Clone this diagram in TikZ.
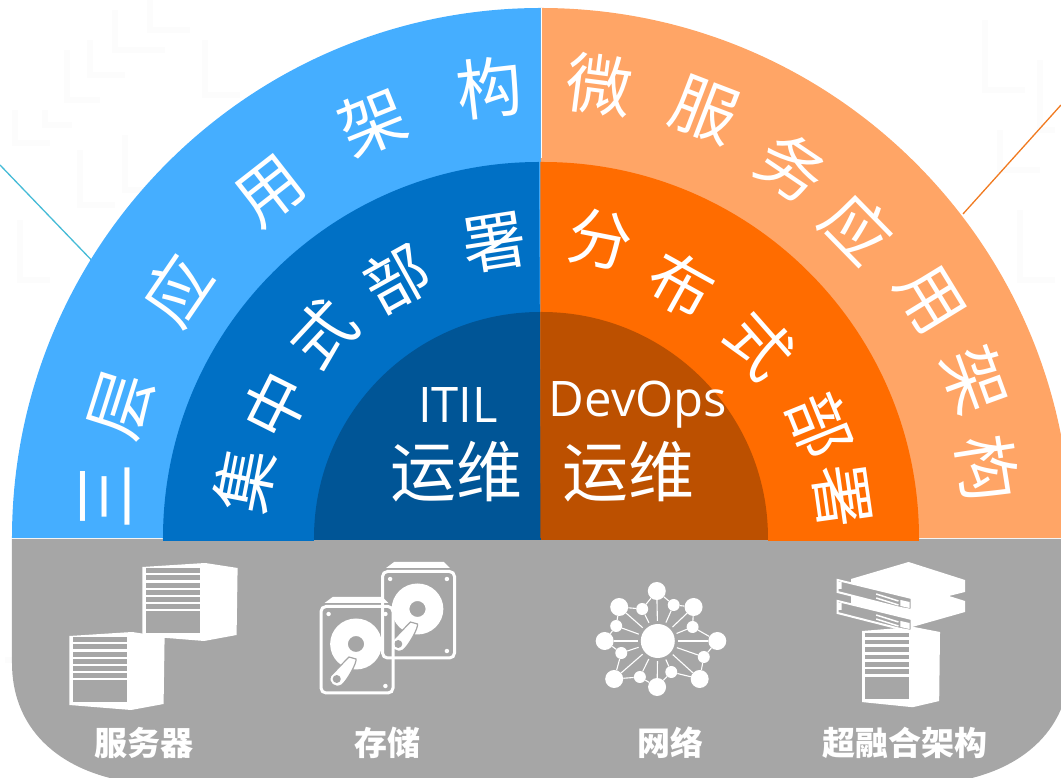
\documentclass[tikz,border=0pt]{standalone}
\usepackage{fontspec}
\setmainfont{Noto Sans CJK SC}
\newfontfamily\latinfont{Open Sans}
\usetikzlibrary{positioning}
\definecolor{skyblue}{HTML}{45AEFF}
\definecolor{midblue}{HTML}{0070C5}
\definecolor{deepblue}{HTML}{005596}
\definecolor{peach}{HTML}{FFA566}
\definecolor{midorange}{HTML}{FF6C00}
\definecolor{deeporange}{HTML}{BC5000}
\definecolor{panelgray}{HTML}{A6A6A6}
\definecolor{linecyan}{HTML}{45BBD6}
\definecolor{lineorange}{HTML}{F07A20}

\begin{document}
\begin{tikzpicture}[x=1pt,y=1pt]
    \tikzset{
        ringtext/.style = {text=white, inner sep=0pt, font=\fontsize{66}{66}\selectfont},
        midtext/.style = {text=white, inner sep=0pt, font=\fontsize{64}{64}\selectfont},
        coretext/.style = {text=white, inner sep=0pt, font=\fontsize{66}{66}\selectfont},
        coreword/.style = {text=white, inner sep=0pt, font=\latinfont\fontsize{49}{49}\selectfont},
        label/.style = {text=white, inner sep=0pt, font=\bfseries\fontsize{33}{33}\selectfont},
        hubdot/.style = {circle, fill=white, inner sep=0pt, minimum size=#1},
        netline/.style = {draw=white, line width=1.1pt},
        slat/.style = {fill=panelgray},
        hairline/.style = {draw=white, line width=0.8pt},
        maze/.style = {draw=black!1, line width=6pt},
        server/.pic = {
            \fill[white] (0,0) -- (62,-4) -- (94,1) -- (93,68) -- (61,74) -- (0,69) -- cycle;
            \foreach \y in {1.5,8.5,16,23,30,37}
                \fill[slat] (4,\y) rectangle (57,\y+4.6);
            \fill[slat] (4,44.5) rectangle (57,66.5);
        },
        drive/.pic = {
            \fill[white] (5,-2) -- (13,-8) -- (62,-8) -- (68,-2) -- cycle;
            \draw[white, line width=3pt, rounded corners=5pt] (1.5,1.5) rectangle (72.5,88);
            \foreach \x/\y in {9/9,65/9,65/81}
                \fill[white] (\x,\y) circle (2.2);
            \fill[white, even odd rule] (36,39) circle (25.5) (36,39) circle (8);
            \filldraw[fill=white, draw=panelgray, line width=1.2pt]
                (29,52) -- (36,54) .. controls (37,58) and (27,76) .. (22,80)
                .. controls (15,84) and (8,78) .. (11,71) -- cycle;
            \fill[panelgray] (17,74) circle (4);
        },
        rackunit/.pic = {
            \filldraw[fill=panelgray, draw=white, line width=2pt]
                (0,0) -- (73,18) -- (73,30) -- (62,28) -- (0,12) -- cycle;
            \draw[white, line width=1.5pt] (38,14) -- (60,21) (38,18) -- (60,25);
            \fill[white] (0,2) rectangle (4,9) (62,20) -- (71,22) -- (71,28) -- (62,26) -- cycle;
        },
    }
    \clip (-541,-240) rectangle (520,538);

    % background texture
    \begin{scope}[shift={(-541,538)},y=-1pt]
        \foreach \a/\b/\c/\d/\e/\f in {
            67/50/67/100/100/100, 45/110/45/125/72/125, 15/110/15/143/50/143,
            115/10/115/50/165/50, 90/40/90/75/125/75, 150/0/150/30/190/30,
            205/40/205/95/240/95, 80/150/80/205/115/205, 125/135/125/190/150/190,
            20/220/20/280/50/280, 1040/60/1040/130/1055/130, 985/20/985/90/1025/90,
            1000/130/1000/170/1040/170, 1020/210/1020/280/1055/280, 20/600/20/660/5/660}
            \draw[maze] (\a,\b) -- (\c,\d) -- (\e,\f);
    \end{scope}

    % leader lines
    \coordinate (cyanfar) at (-541,373);
    \coordinate (cyanend) at (-440,268);
    \coordinate (orangefar) at (520,433);
    \coordinate (orangeend) at (422,324);
    \draw[linecyan, line width=1.3pt] (cyanfar) -- (cyanend);
    \draw[lineorange, line width=1.3pt] (orangefar) -- (orangeend);

    % half rings
    \fill[skyblue] (-529,0) arc[start angle=180, end angle=90, x radius=529, y radius=530] -- (0,0) -- cycle;
    \fill[peach] (530,0) arc[start angle=0, end angle=90, radius=530] -- (0,0) -- cycle;
    \draw[hairline] (0,530) -- (0,380);
    \fill[midblue] (-378,-3) -- (-378,0) arc[start angle=180, end angle=90, radius=376] -- (0,-3) -- cycle;
    \fill[midorange] (378,-3) -- (378,0) arc[start angle=0, end angle=90, radius=376] -- (-0.6,376) -- (-0.6,-3) -- cycle;
    \fill[deepblue] (-227,-2) -- (-227,0) arc[start angle=180, end angle=90, radius=226] -- (0,-2) -- cycle;
    \fill[deeporange] (227,-2) -- (227,0) arc[start angle=0, end angle=90, radius=226] -- (-0.6,226) -- (-0.6,-2) -- cycle;

    % gray panel
    \fill[panelgray] (-529,-1) -- (-529,-125) .. controls (-529,-185) and (-490,-225) .. (-431,-240)
        -- (431,-240) .. controls (490,-225) and (529,-185) .. (529,-125) -- (529,-1) -- cycle;
    \fill[midblue] (-378,0) rectangle (-227,-3);
    \fill[deepblue] (-227,0) rectangle (0,-2);
    \fill[deeporange] (0,0) rectangle (227,-2);
    \fill[midorange] (227,0) rectangle (378,-3);

    % ring texts
    \node[ringtext, rotate=90] (outerleft) at (-436,41) {三};
    \foreach \ch/\ang/\rad [count=\i] in {层/162.4/440, 应/145.7/440, 用/128/440, 架/112/449, 构/96.5/453}
        \node[ringtext, rotate=\ang-90] (outerleft\i) at (\ang:\rad) {\ch};
    \foreach \ch/\ang/\rad [count=\i] in {微/82.6/457, 服/69/458, 务/56/448, 应/44.4/443, 用/31.5/456, 架/20/462, 构/8.9/452}
        \node[ringtext, rotate=\ang-90] (outerright\i) at (\ang:\rad) {\ch};
    \foreach \ch/\ang/\rad [count=\i] in {集/169/302, 中/153.4/297, 式/137/299, 部/119/297, 署/98.9/298.6}
        \node[midtext, rotate=\ang-90] (midleft\i) at (\ang:\rad) {\ch};
    \foreach \ch/\ang/\rad [count=\i] in {分/78.8/304, 布/61/289, 式/41.4/292, 部/22/301, 署/8/304}
        \node[midtext, rotate=\ang-90] (midright\i) at (\ang:\rad) {\ch};

    \node[coreword] (itil) at (-83,133) {ITIL};
    \node[coretext] (itilops) at (-84,66) {运维};
    \node[coreword] (devops) at (97,133) {DevOps};
    \node[coretext] (devopsops) at (88,66) {运维};

    % bottom labels and icons
    \begin{scope}[shift={(-541,538)},y=-1pt]
        \node[label] (serverlabel) at (144,743) {服务器};
        \node[label] (storagelabel) at (388,743) {存储};
        \node[label] (netlabel) at (671,743) {网络};
        \node[label] (hcilabel) at (905,743) {超融合架构};

        \pic[xscale=1.014] (serverup) at (142.3,567) {server};
        \pic[xscale=1.014] (serverdown) at (69.3,636) {server};

        \pic[xscale=1.014] (driveback) at (381,570) {drive};
        \pic[xscale=1.014] (drivefront) at (319.5,605) {drive};

        \node[hubdot=34pt] (hub) at (657.8,641) {};
        \foreach \x/\y/\s [count=\i] in {
            656.8/591/18, 673.7/605/12, 693.6/607/18, 692.6/627/12, 717.3/641/18, 703.8/657/12,
            699.7/679/18, 671.3/672/12, 657.1/687/18, 639.9/677/12, 614.2/679/18, 621.3/653/12,
            604.7/641/18, 616.2/626/12, 619.2/607/18, 642.2/609/12}
            \node[hubdot=\s pt] (netnode\i) at (\x,\y) {};
        \foreach \i in {1,...,16}
            \draw[netline, shorten <=3pt] (hub) -- (netnode\i);
        \foreach \i [remember=\i as \j (initially 16)] in {1,...,16}
            \draw[netline] (netnode\j) -- (netnode\i);

        \pic[xscale=.83, yscale=1.03] (hcitower) at (862,631) {server};
        \fill[white] (851,579) -- (908.6,562) -- (965,580) -- (965,592) -- (949,596) -- (965,601)
            -- (965,612) -- (908.6,628) -- (851,610) -- cycle;
        \pic[xscale=1.014] (rackup) at (837.6,580) {rackunit};
        \pic[xscale=1.014] (rackdown) at (837.6,601) {rackunit};
    \end{scope}
\end{tikzpicture}
\end{document}
